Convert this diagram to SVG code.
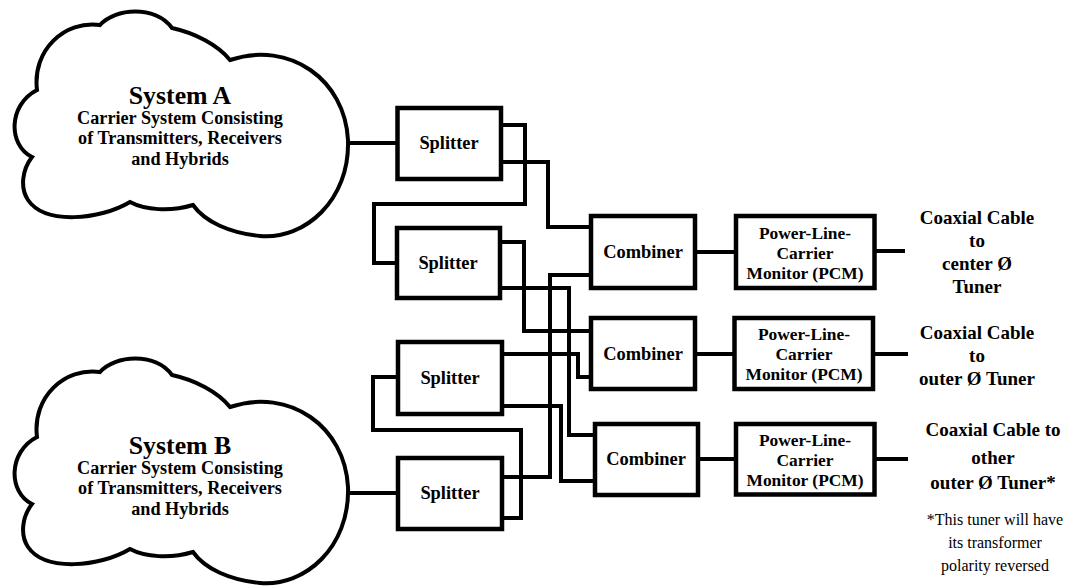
<svg xmlns="http://www.w3.org/2000/svg" width="1072" height="587" viewBox="0 0 1072 587">
<style>
.box{fill:#fff;stroke:#000;stroke-width:4.5}
.cloud{fill:#fff;stroke:#000;stroke-width:4}
.wire{fill:none;stroke:#000;stroke-width:4;stroke-linejoin:miter;stroke-linecap:butt}
.t{font-family:"Liberation Serif","Times New Roman",serif;font-weight:bold;fill:#000;text-anchor:middle}
.lbl{font-size:18.4px}
.pcm{font-size:17.4px}
.title{font-size:25.8px}
.sub{font-size:18.2px}
.out{font-size:19px}
.note{font-family:"Liberation Serif","Times New Roman",serif;font-size:16px;fill:#000;text-anchor:middle}
</style>
<defs>
<path id="cloudShape" d="M37,90 C32,50 65,20 100,25 C115,8 155,5 172,28 C195,33 218,45 230,60 C290,40 345,80 348,140 C350,200 305,240 260,236 C230,233 205,222 193,205 C170,212 145,210 130,202 C100,220 45,225 28,200 C20,188 22,170 32,157 C8,145 8,105 37,90 Z"/>
</defs>
<rect width="1072" height="587" fill="#fff"/>
<g id="connectors">
<path class="wire" d="M348,143 H398"/>
<path class="wire" d="M501,125 H525 V204 H374 V263 H397"/>
<path class="wire" d="M501,162 H548 V227 H591"/>
<path class="wire" d="M500,242 H524 V331 H591"/>
<path class="wire" d="M500,288 H569 V435 H595"/>
<path class="wire" d="M502,477 H550 V275 H591"/>
<path class="wire" d="M502,354 H578 V377 H591"/>
<path class="wire" d="M502,406 H561 V481 H595"/>
<path class="wire" d="M502,518 H521 V430 H373 V377 H397"/>
<path class="wire" d="M348,493 H397"/>
<path class="wire" d="M695,252 H736"/>
<path class="wire" d="M695,354 H734"/>
<path class="wire" d="M698,459 H736"/>
<path class="wire" d="M874,251 H905"/>
<path class="wire" d="M873,354 H908"/>
<path class="wire" d="M874,459 H908"/>
</g>
<g id="systemA">
<use href="#cloudShape" class="cloud"/>
<text class="t title" x="180" y="104">System A</text>
<text class="t sub" x="180" y="124">Carrier System Consisting</text>
<text class="t sub" x="180" y="144">of Transmitters, Receivers</text>
<text class="t sub" x="180" y="165">and Hybrids</text>
</g>
<g id="systemB">
<use href="#cloudShape" class="cloud" transform="translate(0,347)"/>
<text class="t title" x="180" y="454">System B</text>
<text class="t sub" x="180" y="474">Carrier System Consisting</text>
<text class="t sub" x="180" y="494">of Transmitters, Receivers</text>
<text class="t sub" x="180" y="515">and Hybrids</text>
</g>
<g id="splitter1">
<rect class="box" x="397.5" y="108" width="103.5" height="71"/>
<text class="t lbl" x="449" y="149">Splitter</text>
</g>
<g id="splitter2">
<rect class="box" x="397" y="228" width="103" height="70"/>
<text class="t lbl" x="448" y="269">Splitter</text>
</g>
<g id="splitter3">
<rect class="box" x="398" y="342" width="104" height="72"/>
<text class="t lbl" x="450" y="384">Splitter</text>
</g>
<g id="splitter4">
<rect class="box" x="398" y="458" width="104" height="71"/>
<text class="t lbl" x="450" y="499">Splitter</text>
</g>
<g id="combiner1">
<rect class="box" x="591" y="216" width="104" height="72"/>
<text class="t lbl" x="643" y="258">Combiner</text>
</g>
<g id="combiner2">
<rect class="box" x="591" y="318" width="104" height="71"/>
<text class="t lbl" x="643" y="360">Combiner</text>
</g>
<g id="combiner3">
<rect class="box" x="595" y="424" width="103" height="71"/>
<text class="t lbl" x="646" y="465">Combiner</text>
</g>
<g id="pcm1">
<rect class="box" x="736" y="216" width="138.5" height="72"/>
<text class="t pcm" x="805" y="239">Power-Line-</text>
<text class="t pcm" x="805" y="259">Carrier</text>
<text class="t pcm" x="805" y="279">Monitor (PCM)</text>
</g>
<g id="pcm2">
<rect class="box" x="734.5" y="318" width="138.5" height="71"/>
<text class="t pcm" x="804" y="340">Power-Line-</text>
<text class="t pcm" x="804" y="360">Carrier</text>
<text class="t pcm" x="804" y="380">Monitor (PCM)</text>
</g>
<g id="pcm3">
<rect class="box" x="736" y="424" width="138.5" height="70.5"/>
<text class="t pcm" x="805" y="446">Power-Line-</text>
<text class="t pcm" x="805" y="466">Carrier</text>
<text class="t pcm" x="805" y="486">Monitor (PCM)</text>
</g>
<g id="out1">
<text class="t out" x="977" y="224">Coaxial Cable</text>
<text class="t out" x="977" y="247">to</text>
<text class="t out" x="977" y="270">center Ø</text>
<text class="t out" x="977" y="293">Tuner</text>
</g>
<g id="out2">
<text class="t out" x="977" y="339">Coaxial Cable</text>
<text class="t out" x="977" y="362">to</text>
<text class="t out" x="977" y="385">outer Ø Tuner</text>
</g>
<g id="out3">
<text class="t out" x="993" y="436">Coaxial Cable to</text>
<text class="t out" x="993" y="464">other</text>
<text class="t out" x="993" y="489">outer Ø Tuner*</text>
<text class="note" x="995" y="525">*This tuner will have</text>
<text class="note" x="995" y="548">its transformer</text>
<text class="note" x="995" y="571">polarity reversed</text>
</g>
</svg>
